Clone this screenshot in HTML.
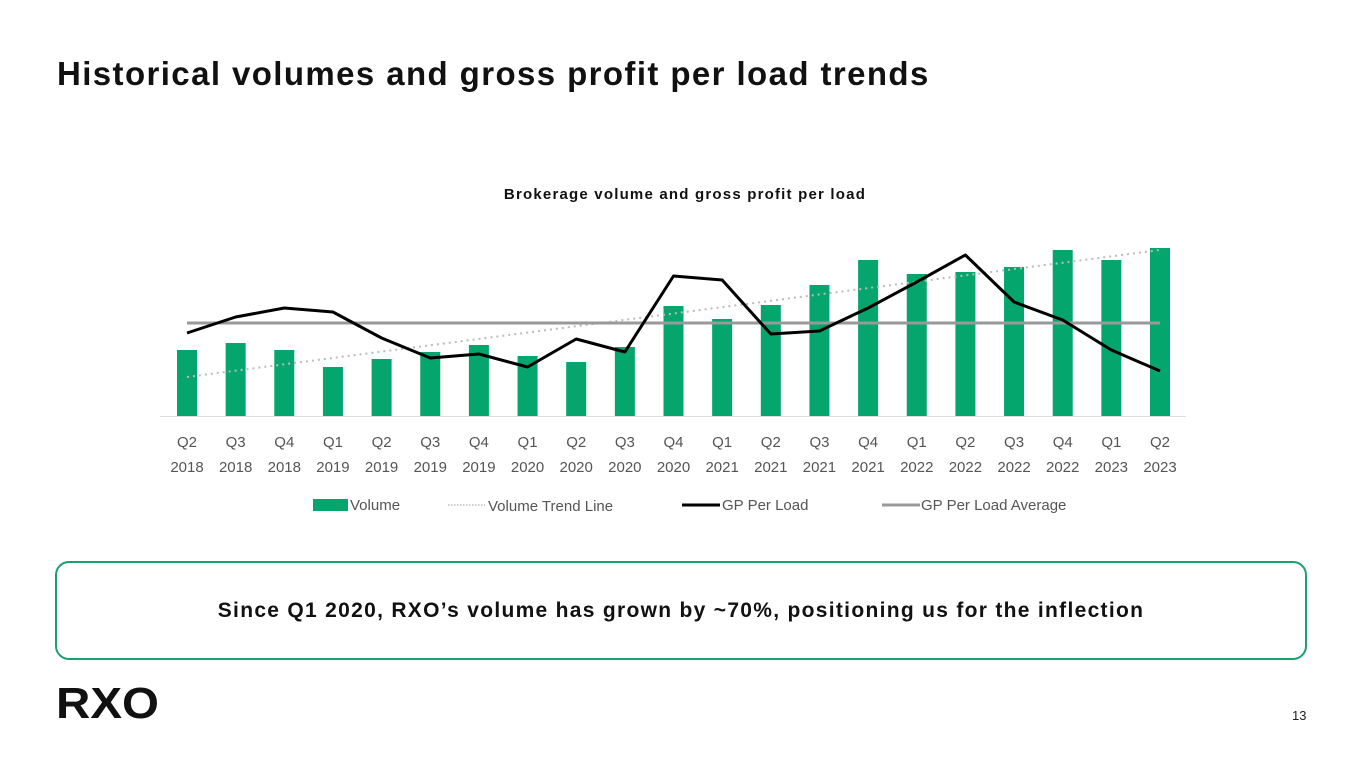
<!DOCTYPE html>
<html><head><meta charset="utf-8"><style>
body{margin:0;width:1365px;height:768px;background:#fff;font-family:"Liberation Sans",sans-serif;position:relative;overflow:hidden}
.t{position:absolute;left:57px;top:55px;font-size:33px;font-weight:bold;color:#111;letter-spacing:1.4px}
.box{position:absolute;left:55px;top:561px;width:1252px;height:99px;border:2px solid #1aa06e;border-radius:14px;box-sizing:border-box}
.box div{text-align:center;line-height:96px;font-size:21px;font-weight:bold;color:#111;letter-spacing:1.3px}
.logo{position:absolute;left:56px;top:682px;font-size:44px;font-weight:900;letter-spacing:0px;color:#111;line-height:44px;transform:scaleX(1.08);transform-origin:left}
.pg{position:absolute;left:1292px;top:708px;font-size:13px;color:#222}
</style></head><body>
<div class="t">Historical volumes and gross profit per load trends</div>
<svg id="c" width="1365" height="540" style="position:absolute;left:0;top:0"></svg>
<div class="box"><div>Since Q1 2020, RXO’s volume has grown by ~70%, positioning us for the inflection</div></div>
<div class="logo">RXO</div>
<div class="pg">13</div>
<script>
const quarters=["Q2","Q3","Q4","Q1","Q2","Q3","Q4","Q1","Q2","Q3","Q4","Q1","Q2","Q3","Q4","Q1","Q2","Q3","Q4","Q1","Q2"];
const years=["2018","2018","2018","2019","2019","2019","2019","2020","2020","2020","2020","2021","2021","2021","2021","2022","2022","2022","2022","2023","2023"];
const volume=[66,73,66,49,57,64,71,60,54,69,110,97,111,131,156,142,144,149,166,156,168];
const gpPerLoad=[83,99,108,104,78,58,62,49,77,64,140,136,82,85,108,134,161,114,96,66,45];
const gpAverage=[93];
const trendEnds=[39,166];
const NS="http://www.w3.org/2000/svg",svg=document.getElementById('c');
const x0=187,step=48.65,base=416;
const X=i=>x0+i*step, Y=v=>base-v;
function mk(t,a,txt){const e=document.createElementNS(NS,t);for(const k in a)e.setAttribute(k,a[k]);if(txt!=null)e.textContent=txt;svg.appendChild(e);return e;}
let e=mk('text',{x:685,y:199,'text-anchor':'middle','font-size':15,'font-weight':'bold',fill:'#111','letter-spacing':'1.2'},'Brokerage volume and gross profit per load');


e=mk('line',{x1:160,x2:1186,y1:base+0.5,y2:base+0.5,stroke:'#ddd'});


volume.forEach((v,i)=>{
 const r=mk('rect',{x:X(i)-10,y:Y(v),width:20,height:v,fill:'#05a56e'});
 
 
 const a=mk('text',{x:X(i),y:447,'text-anchor':'middle','font-size':15,fill:'#555'},quarters[i]);
 
 
 const b=mk('text',{x:X(i),y:472,'text-anchor':'middle','font-size':15,fill:'#555'},years[i]);
 
 
});
const n=volume.length-1;
e=mk('line',{x1:X(0),x2:X(n),y1:Y(trendEnds[0]),y2:Y(trendEnds[1]),stroke:'#bbb','stroke-width':2,'stroke-dasharray':'2 4'});


e=mk('line',{x1:X(0),x2:X(n),y1:Y(gpAverage[0]),y2:Y(gpAverage[0]),stroke:'#999','stroke-width':3});


e=mk('polyline',{points:gpPerLoad.map((v,i)=>X(i)+','+Y(v)).join(' '),fill:'none',stroke:'#000','stroke-width':3,'stroke-linejoin':'round'});


e=mk('rect',{x:313,y:499,width:35,height:12,fill:'#05a56e'});


e=mk('text',{x:350,y:510,'font-size':15,fill:'#555'},'Volume');


e=mk('line',{x1:448,x2:485,y1:505,y2:505,stroke:'#bbb','stroke-width':1.5,'stroke-dasharray':'1.5 1.5'});


e=mk('text',{x:488,y:511,'font-size':15,fill:'#555'},'Volume Trend Line');


e=mk('line',{x1:682,x2:720,y1:505,y2:505,stroke:'#000','stroke-width':3});


e=mk('text',{x:722,y:510,'font-size':15,fill:'#555'},'GP Per Load');


e=mk('line',{x1:882,x2:920,y1:505,y2:505,stroke:'#999','stroke-width':3});


e=mk('text',{x:921,y:510,'font-size':15,fill:'#555'},'GP Per Load Average');


</script>
</body></html>
